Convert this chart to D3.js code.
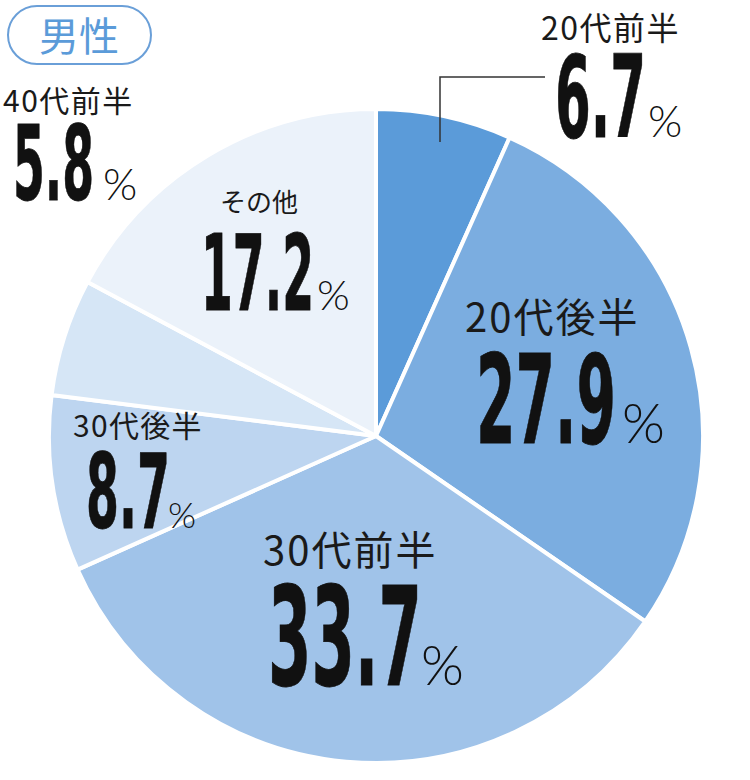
<!DOCTYPE html>
<html>
<head>
<meta charset="utf-8">
<script src="https://cdn.jsdelivr.net/npm/d3@7"></script>
<style>
    body { margin: 0; background: #fff; }
    svg { display: block; }
    .name { font-family: "Noto Sans CJK JP", sans-serif; fill: #1a1a1a; }
    .num { font-family: "Liberation Sans Narrow", "DejaVu Sans Condensed", sans-serif; font-weight: bold; fill: #111; stroke: #111; stroke-width: 0.8; }
    .pct { font-family: Lato, "Noto Sans", sans-serif; font-weight: 300; fill: #111; }
    .leader { fill: none; stroke: #333; stroke-width: 1.5; }
</style>
</head>
<body>
<svg id="chart" width="750" height="780"></svg>
<script>

// data
const categories = ["20代前半", "20代後半", "30代前半", "30代後半", "40代前半", "その他"];
const values = [6.7, 27.9, 33.7, 8.7, 5.8, 17.2];
const colors = ["#5b9bd9", "#7badE0", "#a0c3e9", "#bdd5f0", "#d6e6f6", "#ebf2fa"];
const title = "男性";

// label placement (hand-placed in the original)
// name: [x, baseline, size, letter-spacing], num: [x, baseline, cap height, width], pct: [x, size]
const labelLayout = {
    "20代前半": { name: [541, 40, 32, 1.5], num: [555, 137, 77, 91], pct: [648, 44], leader: [[545, 77], [440, 77], [440, 142]] },
    "20代後半": { name: [465, 332, 40, 2], num: [476, 443, 84, 140], pct: [622, 55] },
    "30代前半": { name: [263, 565, 40, 2], num: [268, 685, 93, 154], pct: [421, 55] },
    "30代後半": { name: [73, 437, 30, 1.3], num: [86, 528, 70, 84], pct: [168, 36] },
    "40代前半": { name: [3, 112, 30, 1.5], num: [13, 200, 70, 81], pct: [103, 44] },
    "その他": { name: [220, 212, 26, 0], num: [201, 310, 72, 113], pct: [317, 42] }
};

const svg = d3.select("#chart");
const cx = 376, cy = 436, radius = 327;

const rows = categories.map((c, i) => ({ category: c, value: values[i] }));

const color = d3.scaleOrdinal()
    .domain(categories)
    .range(colors);

const pie = d3.pie()
    .value(d => d.value)
    .sort(null);

const arc = d3.arc()
    .innerRadius(0)
    .outerRadius(radius);

svg.append("g")
    .attr("transform", `translate(${cx},${cy})`)
    .selectAll("path")
    .data(pie(rows))
    .enter()
    .append("path")
        .attr("d", arc)
        .attr("fill", d => color(d.data.category))
        .attr("stroke", "#fff")
        .attr("stroke-width", 4)
        .attr("stroke-linejoin", "round");

// leader lines
let line = d3.line();
rows.forEach(d => {
    let l = labelLayout[d.category];
    if (l.leader) {
        svg.append("path")
            .classed("leader", true)
            .attr("d", line(l.leader));
    }
});

// labels
let labels = svg.append("g").attr("id", "labels");
rows.forEach(d => {
    let l = labelLayout[d.category];
    labels.append("text")
        .classed("name", true)
        .attr("x", l.name[0])
        .attr("y", l.name[1])
        .attr("font-size", l.name[2])
        .attr("letter-spacing", l.name[3])
        .text(d.category);
    // number: size from cap height, squeezed to target width
    labels.append("text")
        .classed("num", true)
        .attr("x", l.num[0])
        .attr("y", l.num[1])
        .attr("font-size", l.num[2] / 0.68)
        .attr("textLength", l.num[3])
        .attr("lengthAdjust", "spacingAndGlyphs")
        .text(d.value.toFixed(1));
    labels.append("text")
        .classed("pct", true)
        .attr("x", l.pct[0])
        .attr("y", l.num[1])
        .attr("font-size", l.pct[1])
        .text("%");
});

// title badge
let badge = svg.append("g").attr("id", "badge");
badge.append("rect")
    .attr("x", 8)
    .attr("y", 6)
    .attr("width", 143)
    .attr("height", 58)
    .attr("rx", 29)
    .attr("fill", "none")
    .attr("stroke", "#6a9fd8")
    .attr("stroke-width", 2);
badge.append("text")
    .attr("x", 79)
    .attr("y", 51)
    .attr("text-anchor", "middle")
    .attr("font-family", "'Noto Sans CJK JP', sans-serif")
    .attr("font-size", 40)
    .attr("fill", "#5b9bd9")
    .text(title);

</script>
</body>
</html>
